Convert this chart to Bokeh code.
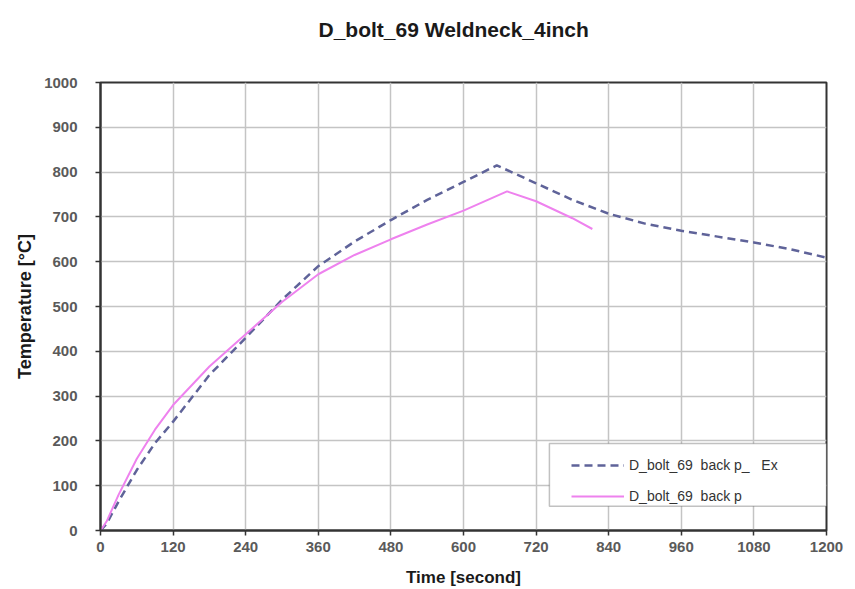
from bokeh.plotting import figure
from bokeh.models import Legend, LegendItem, FixedTicker, Range1d, Title, BoxAnnotation
from bokeh.embed import file_html
from bokeh.resources import INLINE

# Data
time_ex = [0, 10, 30, 60, 90, 120, 180, 240, 300, 360, 420, 480, 540, 600, 655,
           720, 780, 840, 900, 960, 1020, 1080, 1140, 1200]
temp_ex = [0, 15, 65, 135, 195, 243, 347, 430, 515, 590, 645, 693, 738, 778, 815,
           775, 738, 707, 685, 669, 656, 643, 628, 609]

time_sim = [0, 10, 30, 60, 90, 120, 180, 240, 300, 360, 420, 480, 540, 600, 672,
            720, 780, 813]
temp_sim = [0, 20, 80, 160, 225, 280, 366, 438, 510, 572, 615, 650, 683, 714, 757,
            735, 697, 673]

x_ticks = [0, 120, 240, 360, 480, 600, 720, 840, 960, 1080, 1200]
y_ticks = [0, 100, 200, 300, 400, 500, 600, 700, 800, 900, 1000]

series_names = ["D_bolt_69  back p_   Ex", "D_bolt_69  back p"]
chart_title = "D_bolt_69 Weldneck_4inch"

FONT = "Liberation Sans"

p = figure(width=855, height=589, output_backend="svg", toolbar_location=None,
           x_range=Range1d(0, 1200), y_range=Range1d(0, 1000),
           min_border_left=100, min_border_right=29, min_border_top=82,
           min_border_bottom=59, background_fill_color="white",
           border_fill_color="white")

# the empty second line keeps the title high above the frame
title = Title(text=chart_title + "\n ", align="left", vertical_align="top",
              text_font=FONT, text_font_size="21px", text_font_style="bold",
              text_color="#1a1a1a", standoff=34, offset=218)
p.add_layout(title, "above")

p.outline_line_color = "#333333"
p.outline_line_width = 2

for ax in (p.xaxis[0], p.yaxis[0]):
    ax.axis_line_color = "#333333"
    ax.axis_line_width = 2
    ax.major_tick_line_color = "#333333"
    ax.major_tick_line_width = 1.5
    ax.major_tick_out = 5
    ax.major_tick_in = 0
    ax.minor_tick_line_color = None
    ax.major_label_text_font = FONT
    ax.major_label_text_font_size = "15px"
    ax.major_label_text_font_style = "bold"
    ax.major_label_text_color = "#5a5a5a"
    ax.axis_label_text_font = FONT
    ax.axis_label_text_font_size = "17px"
    ax.axis_label_text_font_style = "bold"
    ax.axis_label_text_color = "#1a1a1a"

p.yaxis.axis_label_text_font_size = "18px"
p.xaxis.ticker = FixedTicker(ticks=x_ticks)
p.yaxis.ticker = FixedTicker(ticks=y_ticks)
p.xaxis.axis_label = "Time [second]"
p.yaxis.axis_label = "Temperature [°C]"
p.xaxis.major_label_standoff = 6
p.xaxis.axis_label_standoff = 13
p.yaxis.major_label_standoff = 18
p.yaxis.axis_label_standoff = 6

p.xgrid.grid_line_color = "#c4c4c4"
p.ygrid.grid_line_color = "#c4c4c4"
p.xgrid.grid_line_width = 1.5
p.ygrid.grid_line_width = 1.5

r_ex = p.line(time_ex, temp_ex, line_color="#5f6399", line_width=2.5,
              line_dash="8 5")
r_sim = p.line(time_sim, temp_sim, line_color="#ee82ee", line_width=2)

# legend frame (x in seconds, y in degrees)
box = BoxAnnotation(left=742, right=1200, bottom=54, top=194,
                    fill_color="white", fill_alpha=1,
                    line_color="#333333", line_width=1.5)
p.add_layout(box)

legend = Legend(items=[LegendItem(label=series_names[0], renderers=[r_ex]),
                       LegendItem(label=series_names[1], renderers=[r_sim])],
                location=(471, 24))
legend.label_text_font = FONT
legend.label_text_font_size = "14px"
legend.label_text_color = "#333333"
legend.border_line_color = None
legend.background_fill_alpha = 0
legend.glyph_width = 53
legend.glyph_height = 20
legend.label_height = 20
legend.spacing = 11
legend.padding = 6
legend.margin = 0
legend.label_standoff = 5
p.add_layout(legend, "center")

open("out.html", "w").write(file_html(p, INLINE))
